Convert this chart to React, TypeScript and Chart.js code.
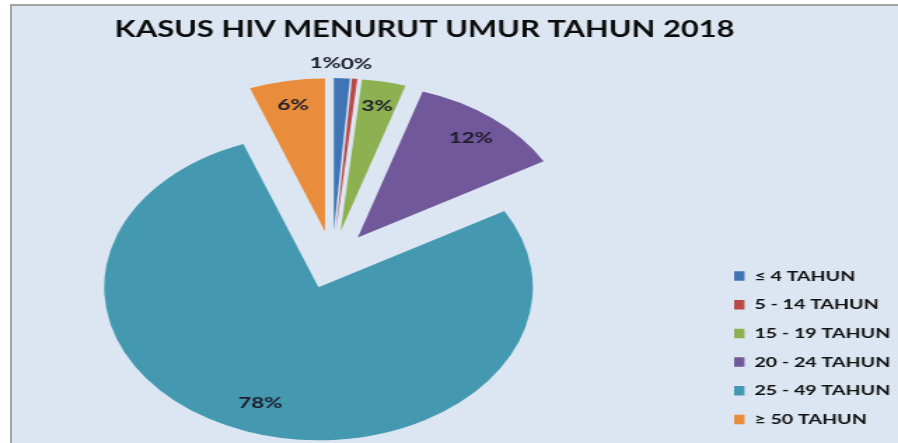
import React, { useEffect, useRef } from "react";
import { Chart, registerables } from "chart.js";

Chart.register(...registerables);

// ---- data ----
const TITLE = "KASUS HIV MENURUT UMUR TAHUN 2018";
const categories = ["≤ 4 TAHUN", "5 - 14 TAHUN", "15 - 19 TAHUN", "20 - 24 TAHUN", "25 - 49 TAHUN", "≥ 50 TAHUN"];
const shares = [1.2, 0.4, 3.3, 11.8, 77.6, 5.7];
const sliceColors = ["#3f74b5", "#b94a48", "#8db050", "#71589a", "#4499b1", "#e98d3d"];

// ---- layout ----
const VISIBLE_W = 641; // unstretched width of the visible part
const STRETCH = 898 / VISIBLE_W; // horizontal stretch of the original picture
const SHIFT = 35; // hidden strip on the left (unstretched px)
const CANVAS_W = VISIBLE_W + SHIFT;
const CANVAS_H = 443;
const EXPLODE = 29;
const FONT = "Lato, 'Open Sans', sans-serif";

// moves every slice outward along its bisector (exploded pie)
const explodeSlices = {
  id: "explodeSlices",
  afterDatasetUpdate(chart: any, args: any) {
    args.meta.data.forEach((arc: any) => {
      const mid = (arc.startAngle + arc.endAngle) / 2;
      arc.x += Math.cos(mid) * EXPLODE;
      arc.y += Math.sin(mid) * EXPLODE;
    });
  },
};

const pctLabels = {
  id: "pctLabels",
  afterDatasetsDraw(chart: any) {
    const ctx = chart.ctx;
    const meta = chart.getDatasetMeta(0);
    const data = chart.data.datasets[0].data as number[];
    const total = data.reduce((a, b) => a + b, 0);
    ctx.save();
    ctx.font = `bold 16px ${FONT}`;
    ctx.fillStyle = "#1d1d2b";
    ctx.textAlign = "center";
    ctx.textBaseline = "middle";
    const inside: any[] = [];
    const outside: any[] = [];
    meta.data.forEach((arc: any, i: number) => {
      const p = arc.getProps(["x", "y", "startAngle", "endAngle", "outerRadius"], true);
      const mid = (p.startAngle + p.endAngle) / 2;
      const pct = (data[i] / total) * 100;
      const text = Math.round(pct) + "%";
      const isOut = pct < 2;
      const r = p.outerRadius * (isOut ? 1.1 : pct > 50 ? 0.8 : 0.84);
      const item = {
        text,
        x: p.x + Math.cos(mid) * r,
        y: p.y + Math.sin(mid) * r,
        w: ctx.measureText(text).width,
      };
      (isOut ? outside : inside).push(item);
    });
    outside.sort((a, b) => b.x - a.x);
    for (let k = 1; k < outside.length; k++) {
      const right = outside[k - 1];
      const cur = outside[k];
      const maxX = right.x - right.w / 2 - cur.w / 2;
      if (cur.x > maxX && Math.abs(cur.y - right.y) < 16) cur.x = maxX;
    }
    [...inside, ...outside].forEach((it) => ctx.fillText(it.text, it.x, it.y));
    ctx.restore();
  },
};

export default function App() {
  const canvasRef = useRef<HTMLCanvasElement | null>(null);

  useEffect(() => {
    if (!canvasRef.current) return;
    const chart = new Chart(canvasRef.current, {
      type: "pie",
      data: {
        labels: categories,
        datasets: [
          {
            data: shares,
            backgroundColor: sliceColors,
            borderWidth: 0,
            radius: 153,
          } as any,
        ],
      },
      options: {
        responsive: false,
        animation: false,
        layout: { padding: { left: 0, right: 0, top: 0, bottom: 1.8 } },
        plugins: {
          title: {
            display: true,
            text: TITLE,
            color: "#0d0d0d",
            font: { family: FONT, size: 22, weight: "bold" },
            padding: { top: 17, bottom: 35.4 },
          },
          legend: {
            position: "right",
            align: "end",
            maxWidth: 131.7,
            labels: {
              boxWidth: 7.4,
              boxHeight: 9.5,
              padding: 14.7,
              color: "#111111",
              font: { family: FONT, size: 14, weight: "bold" },
            },
          },
          tooltip: { enabled: false },
        },
      } as any,
      plugins: [explodeSlices, pctLabels],
    });
    return () => chart.destroy();
  }, []);

  return (
    <div
      style={{
        position: "absolute",
        left: 0,
        top: 0,
        width: 898,
        height: 443,
        overflow: "hidden",
        background: "#ffffff",
      }}
    >
      <div
        style={{
          position: "absolute",
          left: 10,
          top: 4,
          width: 900,
          height: 460,
          boxSizing: "border-box",
          borderLeft: "2px solid #a3a3a3",
          borderTop: "2px solid #a3a3a3",
          background: "#dce6f2",
        }}
      />
      <div
        style={{
          position: "absolute",
          left: -SHIFT * STRETCH,
          top: 0,
          width: CANVAS_W,
          height: CANVAS_H,
          transform: `scaleX(${STRETCH})`,
          transformOrigin: "0 0",
        }}
      >
        <canvas
          ref={canvasRef}
          width={CANVAS_W}
          height={CANVAS_H}
          style={{ display: "block", width: CANVAS_W, height: CANVAS_H }}
        />
      </div>
    </div>
  );
}
